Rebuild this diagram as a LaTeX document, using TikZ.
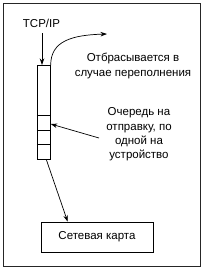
\documentclass[tikz,border=0pt]{standalone}
\usepackage{fontspec}
\setmainfont{Liberation Sans}
\usetikzlibrary{arrows.meta}
\begin{document}
\begin{tikzpicture}[x=1pt,y=-1pt, line width=0.7pt,
  >={Stealth[length=6.5pt,width=4.5pt]},
  lbl/.style={font=\fontsize{11.5}{14.3}\selectfont, align=center, inner sep=0pt},
  boxn/.style={draw, inner sep=0pt}]
\useasboundingbox (0,0) rectangle (203,269);
\node[boxn, line width=0.9pt, draw=black!85, minimum width=197pt, minimum height=263pt] (frame) at (101.5,134.5) {};
\node[lbl] (tcp) at (41.5,23) {TCP/IP};
\node[boxn, minimum width=13pt, minimum height=94pt, anchor=north west] (queue) at (37,65) {};
\draw ([yshift=-50pt]queue.north west) -- ([yshift=-50pt]queue.north east);
\draw ([yshift=-65pt]queue.north west) -- ([yshift=-65pt]queue.north east);
\draw ([yshift=-79pt]queue.north west) -- ([yshift=-79pt]queue.north east);
\coordinate (tcpin) at (42,33);
\draw[->] (tcpin) -- (tcpin |- queue.north);
\coordinate (drop) at (107,34);
\draw[->] (queue.north east) .. controls +(0,-24) and (72,35) .. (drop);
\node[lbl] (droplbl) at (133,66) {Отбрасывается в\\случае переполнения};
\node[lbl] (qlbl) at (139,134.5) {Очередь на\\отправку, по\\одной на\\устройство};
\coordinate (qa) at (99,138);
\draw[->] (qa) -- ([yshift=-59pt]queue.north east);
\node[boxn, minimum width=112pt, minimum height=30pt] (card) at (97,237) {\fontsize{11.5}{14}\selectfont Сетевая карта};
\draw[->] ([xshift=2.5pt]queue.south) -- ([xshift=27pt]card.north west);
\end{tikzpicture}
\end{document}
